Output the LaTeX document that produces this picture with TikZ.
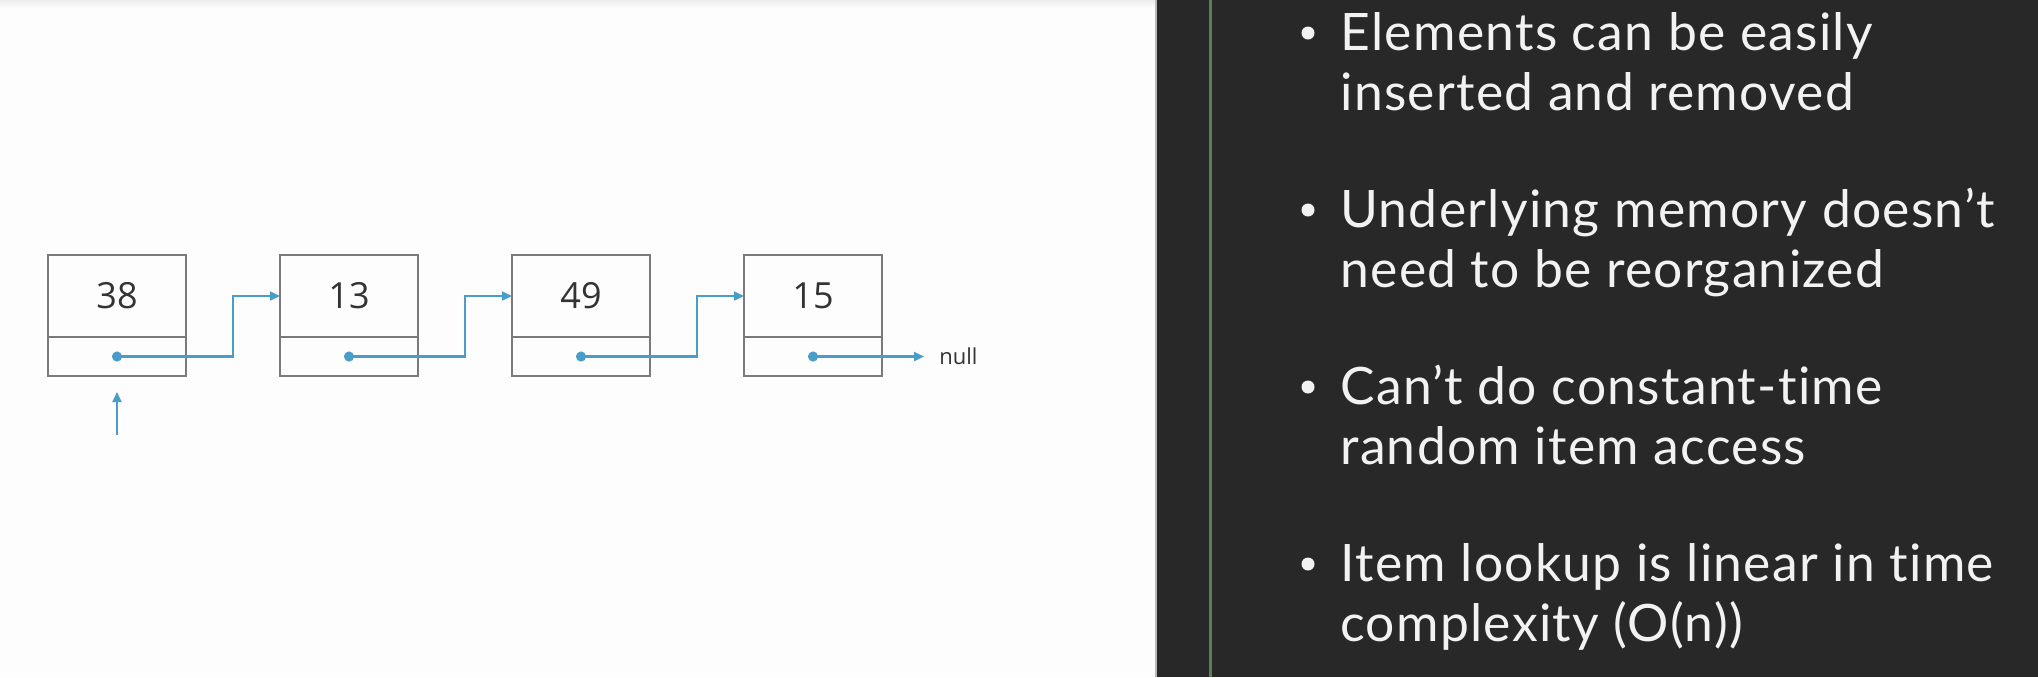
\documentclass[tikz,border=0pt]{standalone}
\usepackage{fontspec}
\setmainfont{Open Sans}
\newfontfamily\listfont[Ligatures=NoCommon,LetterSpace=2.5]{Lato}
\usetikzlibrary{arrows.meta,positioning}
\definecolor{boxgray}{HTML}{7A7A7A}
\definecolor{linkblue}{HTML}{4A9CC9}
\definecolor{panel}{HTML}{282828}
\definecolor{bargreen}{HTML}{557F55}
\definecolor{paper}{HTML}{FDFDFD}
\definecolor{ink}{HTML}{333333}
\definecolor{chalk}{HTML}{F2F2F2}

\tikzset{
  cell/.style={draw=boxgray,line width=1.2pt,minimum width=69pt,inner sep=0pt,outer sep=0pt},
  val/.style={cell,minimum height=41pt,text=ink,font=\fontsize{18}{20}\selectfont},
  ptr/.style={cell,minimum height=19.5pt},
  link/.style={draw=linkblue,line width=1.1pt,arrows={Circle[length=5pt]-Triangle[length=5pt,width=4.5pt]},shorten <=-2.5pt},
  headlink/.style={draw=linkblue,line width=1.1pt,arrows={-Triangle[length=5pt,width=4.5pt]}},
  item/.style={anchor=base west,inner sep=0pt,text=chalk,font=\listfont\fontsize{25.8}{30}\selectfont},
  bullet/.style={circle,fill=chalk,inner sep=0pt,minimum size=6.5pt},
}

\begin{document}
\begin{tikzpicture}[x=0.5pt,y=-0.5pt]
\useasboundingbox (0,0) rectangle (2038,677);
\fill[paper] (0,0) rectangle (1156,677);
\shade[top color=black!7,bottom color=paper] (0,0) rectangle (1156,8);
\fill[panel] (1156,0) rectangle (2038,677);
\draw[gray!55,line width=1pt] (1156,0) -- (1156,677);
\fill[bargreen] (1209,0) rectangle (1212,677);

% the list
\node[val] (v1) at (117,296) {38};
\node[ptr,below=0pt of v1] (p1) {};
\node[val,right=47pt of v1] (v2) {13};
\node[ptr,below=0pt of v2] (p2) {};
\node[val,right=47pt of v2] (v3) {49};
\node[ptr,below=0pt of v3] (p3) {};
\node[val,right=47pt of v3] (v4) {15};
\node[ptr,below=0pt of v4] (p4) {};
\node[right=21pt of p4,inner xsep=7.5pt,inner ysep=0pt,text=ink,font=\fontsize{11}{13}\selectfont] (null) {null};
\coordinate[below=29.5pt of p1] (head);

\draw[link] (p1.center) -| ([xshift=-23.5pt]v2.west) -- (v2.west);
\draw[link] (p2.center) -| ([xshift=-23.5pt]v3.west) -- (v3.west);
\draw[link] (p3.center) -| ([xshift=-23.5pt]v4.west) -- (v4.west);
\draw[link] (p4.center) -- (null.west);
\draw[headlink] (head) -- ([yshift=-8pt]p1.south);

% the points
\node[bullet] (d1) at (1308,33) {};
\node[item] (t1a) at (1340,50) {Elements can be easily};
\node[item] (t1b) at (1340,110) {inserted and removed};
\node[bullet] (d2) at (1308,210) {};
\node[item] (t2a) at (1340,227) {Underlying memory doesn’t};
\node[item] (t2b) at (1340,287) {need to be reorganized};
\node[bullet] (d3) at (1308,387) {};
\node[item] (t3a) at (1340,404) {Can’t do constant-time};
\node[item] (t3b) at (1340,464) {random item access};
\node[bullet] (d4) at (1308,564) {};
\node[item] (t4a) at (1340,581) {Item lookup is linear in time};
\node[item] (t4b) at (1340,641) {complexity (O(n))};
\end{tikzpicture}
\end{document}
